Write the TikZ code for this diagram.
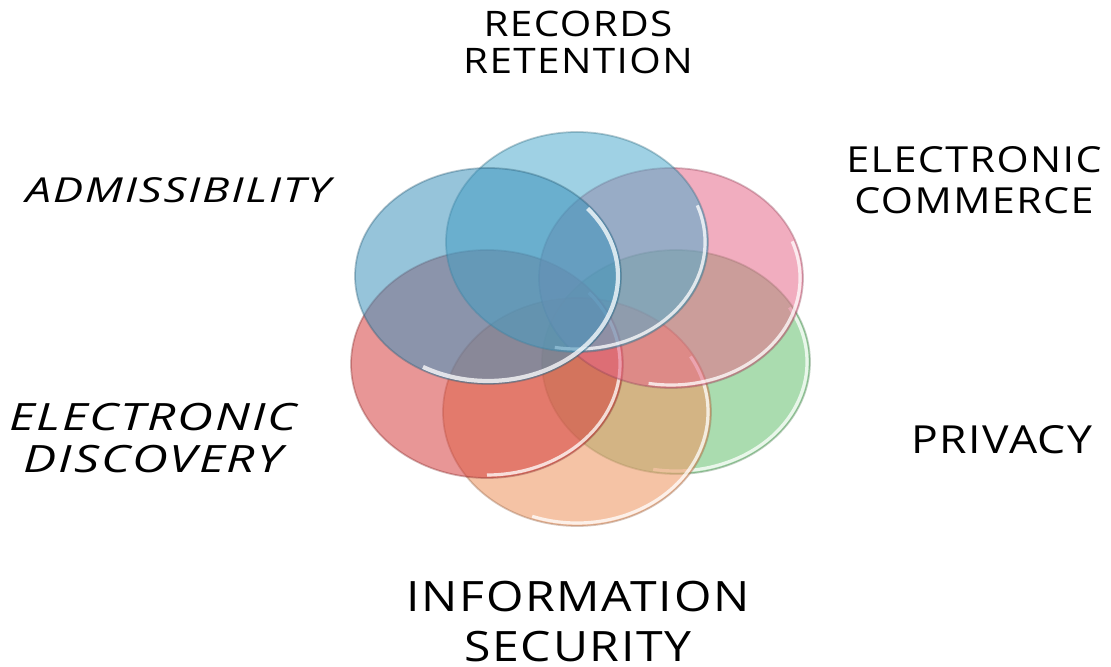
\documentclass[tikz,border=0pt]{standalone}
\usepackage{fontspec}
\usetikzlibrary{calc}
\newfontfamily\capsfont[FakeStretch=1.15,LetterSpace=4]{Open Sans}
\newfontfamily\slantfont[FakeStretch=1.32,LetterSpace=5]{Open Sans}
\definecolor{admblue}{RGB}{63,147,188}
\definecolor{recblue}{RGB}{80,172,205}
\definecolor{compink}{RGB}{230,105,138}
\definecolor{prvgreen}{RGB}{113,197,122}
\definecolor{inforange}{RGB}{238,155,105}
\definecolor{dscred}{RGB}{213,63,63}
\def\rimarc[#1](#2)(#3:#4:#5:#6){\draw[#1] ($(#2)+({#5*cos(#3)},{#6*sin(#3)})$) arc[start angle=#3, end angle=#4, x radius=#5, y radius=#6];}

\begin{document}
\begin{tikzpicture}[x=0.01cm,y=-0.01cm,
    topic/.style={font=\capsfont\fontsize{10}{10.5}\selectfont, align=center, inner sep=0pt},
    slanttopic/.style={font=\slantfont\itshape\fontsize{9.8}{10.5}\selectfont, align=center, inner sep=0pt},
    bigtopic/.style={font=\capsfont\fontsize{11.9}{14.2}\selectfont, align=center, inner sep=0pt},
    edge/.style={opacity=0.35, line width=0.5pt},
    shine/.style={white, opacity=0.75, line width=0.9pt}]
			%%%%% START %%%%%
			\useasboundingbox (0, 0) rectangle (1111, 667);
			
			% discs, bottom one first
			\fill[prvgreen, fill opacity=0.6] (676, 362) ellipse (134 and 112);
			\draw[edge, prvgreen!60!black] (676, 362) ellipse (134 and 112);
			\rimarc[shine](676, 362)(-30:100:131:109);
			
			\fill[inforange, fill opacity=0.6] (577, 412) ellipse (134 and 114);
			\draw[edge, inforange!60!black] (577, 412) ellipse (134 and 114);
			\rimarc[shine](577, 412)(-30:110:131:111);
			
			\fill[dscred, fill opacity=0.55] (487, 364) ellipse (136 and 114);
			\draw[edge, dscred!60!black] (487, 364) ellipse (136 and 114);
			\rimarc[shine](487, 364)(-40:90:133:111);
			
			\fill[compink, fill opacity=0.55] (671, 278) ellipse (132 and 110);
			\draw[edge, compink!60!black] (671, 278) ellipse (132 and 110);
			\rimarc[shine](671, 278)(-20:100:129:107);
			
			\fill[recblue, fill opacity=0.55] (577, 242) ellipse (131 and 110);
			\draw[edge, recblue!60!black] (577, 242) ellipse (131 and 110);
			\rimarc[shine](577, 242)(-20:100:128:107);
			
			\fill[admblue, fill opacity=0.55] (488, 276) ellipse (133 and 108);
			\draw[edge, admblue!60!black] (488, 276) ellipse (133 and 108);
			\rimarc[shine, line width=1.2pt](488, 276)(-40:120:130:105);
			
			% labels
			\node[topic] (rec) at (578, 42) {RECORDS\\RETENTION};
			\node[slanttopic] (adm) at (178, 190) {ADMISSIBILITY};
			\node[topic, font=\capsfont\fontsize{10.2}{11.6}\selectfont] (com) at (974, 180) {ELECTRONIC\\COMMERCE};
			\node[topic, font=\capsfont\fontsize{11}{12}\selectfont] (prv) at (1002, 440) {PRIVACY};
			\node[slanttopic, font=\slantfont\itshape\fontsize{10.7}{12.2}\selectfont] (dsc) at (153, 438) {ELECTRONIC\\DISCOVERY};
			\node[bigtopic] (inf) at (578, 622) {INFORMATION\\SECURITY};
			
			%%%%% END %%%%%
		\end{tikzpicture}
\end{document}
